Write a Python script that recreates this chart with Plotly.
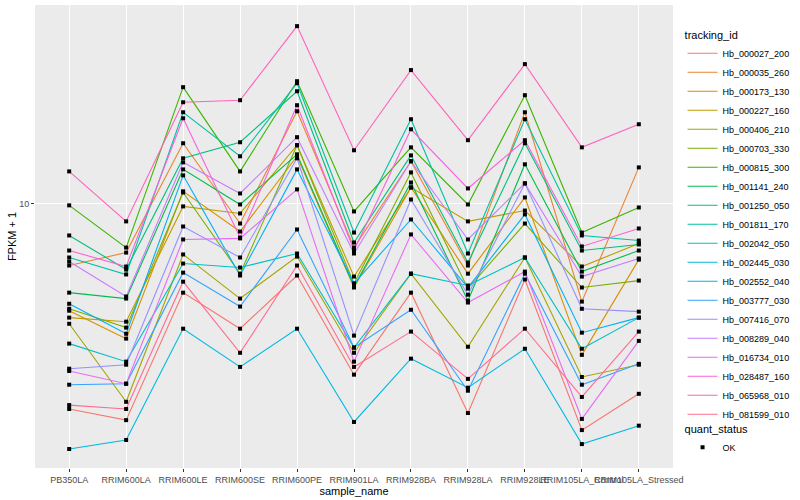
import plotly.graph_objects as go

samples = ["PB350LA", "RRIM600LA", "RRIM600LE", "RRIM600SE", "RRIM600PE",
           "RRIM901LA", "RRIM928BA", "RRIM928LA", "RRIM928LE",
           "RRIM105LA_Control", "RRIM105LA_Stressed"]

tracking_ids = ["Hb_000027_200", "Hb_000035_260", "Hb_000173_130", "Hb_000227_160",
                "Hb_000406_210", "Hb_000703_330", "Hb_000815_300", "Hb_001141_240",
                "Hb_001250_050", "Hb_001811_170", "Hb_002042_050", "Hb_002445_030",
                "Hb_002552_040", "Hb_003777_030", "Hb_007416_070", "Hb_008289_040",
                "Hb_016734_010", "Hb_028487_160", "Hb_065968_010", "Hb_081599_010"]

colors = ["#F8766D", "#EA8331", "#D89000", "#C09B00", "#A3A500", "#7CAE00", "#39B600",
          "#00BB4E", "#00BF7D", "#00C1A3", "#00BFC4", "#00BAE0", "#00B0F6", "#35A2FF",
          "#9590FF", "#C77CFF", "#E76BF3", "#FA62DB", "#FF62BC", "#FF6C91"]

# FPKM + 1 per sample (same order as samples)
Hb_000027_200 = [3.07, 2.88, 5.99, 4.87, 6.61, 3.74, 5.99, 3.00, 6.46, 2.72, 3.35]
Hb_000035_260 = [7.00, 7.54, 14.13, 8.91, 16.98, 7.76, 12.74, 7.00, 16.88, 5.69, 12.30]
Hb_000173_130 = [5.40, 4.60, 10.72, 8.51, 13.11, 6.17, 10.96, 6.68, 10.35, 4.19, 7.24]
Hb_000227_160 = [5.19, 5.07, 9.83, 9.44, 13.97, 6.57, 10.96, 9.02, 9.60, 6.96, 7.94]
Hb_000406_210 = [5.01, 3.20, 7.46, 5.79, 7.37, 4.24, 6.68, 4.39, 7.33, 3.69, 3.96]
Hb_000703_330 = [5.46, 4.90, 10.65, 6.68, 13.97, 6.31, 11.95, 6.13, 8.91, 6.17, 6.42]
Hb_000815_300 = [9.89, 7.76, 19.50, 12.02, 20.18, 9.55, 13.80, 9.94, 18.62, 8.46, 9.77]
Hb_001141_240 = [5.99, 5.79, 12.16, 9.94, 13.26, 6.20, 11.28, 5.72, 12.52, 6.76, 7.63]
Hb_001250_050 = [8.32, 6.84, 12.96, 14.21, 19.05, 7.99, 13.18, 7.12, 14.13, 7.63, 7.90]
Hb_001811_170 = [7.33, 6.65, 16.88, 13.11, 19.95, 8.46, 16.22, 7.50, 16.22, 8.32, 8.08]
Hb_002042_050 = [4.47, 4.03, 7.08, 6.92, 7.50, 4.37, 6.68, 6.24, 7.33, 4.34, 5.19]
Hb_002445_030 = [2.44, 2.57, 4.87, 3.91, 4.87, 2.85, 4.10, 3.47, 4.34, 2.51, 2.79]
Hb_002552_040 = [5.62, 4.73, 11.75, 6.61, 12.16, 6.31, 9.12, 6.17, 9.39, 4.76, 5.19]
Hb_003777_030 = [3.53, 3.55, 6.72, 5.53, 8.61, 4.37, 5.43, 3.41, 6.68, 3.53, 3.98]
Hb_007416_070 = [3.87, 3.96, 8.76, 7.33, 12.96, 4.68, 10.23, 5.92, 11.22, 5.46, 5.37]
Hb_008289_040 = [7.16, 5.86, 12.66, 10.59, 14.63, 7.50, 12.74, 8.13, 11.22, 6.57, 7.29]
Hb_016734_010 = [3.82, 3.55, 8.13, 8.18, 10.84, 4.03, 8.37, 5.66, 6.76, 2.90, 4.54]
Hb_028487_160 = [7.63, 6.96, 16.31, 8.22, 17.58, 7.63, 15.31, 10.90, 14.38, 7.81, 8.66]
Hb_065968_010 = [12.02, 9.02, 17.88, 18.09, 27.69, 13.57, 21.51, 14.38, 22.26, 13.80, 15.76]
Hb_081599_010 = [3.14, 3.07, 6.38, 4.24, 7.00, 3.91, 4.79, 3.65, 4.87, 3.29, 4.79]

series = [Hb_000027_200, Hb_000035_260, Hb_000173_130, Hb_000227_160, Hb_000406_210,
          Hb_000703_330, Hb_000815_300, Hb_001141_240, Hb_001250_050, Hb_001811_170,
          Hb_002042_050, Hb_002445_030, Hb_002552_040, Hb_003777_030, Hb_007416_070,
          Hb_008289_040, Hb_016734_010, Hb_028487_160, Hb_065968_010, Hb_081599_010]

quant_status = "OK"

FONT = "Liberation Sans, Arial, sans-serif"

fig = go.Figure()
for name, vals, col in zip(tracking_ids, series, colors):
    fig.add_trace(go.Scatter(
        x=samples, y=vals, mode="lines", name=name,
        line=dict(color=col, width=1.1), legend="legend",
        hoverinfo="skip"))

all_x = []
all_y = []
for vals in series:
    all_x.extend(samples)
    all_y.extend(vals)
fig.add_trace(go.Scatter(
    x=all_x, y=all_y, mode="markers", name=quant_status,
    marker=dict(symbol="square", size=4, color="black"),
    legend="legend2"))

fig.update_layout(
    width=800, height=500,
    margin=dict(l=35, r=117, t=5, b=32),
    paper_bgcolor="white", plot_bgcolor="#EBEBEB",
    font=dict(family=FONT, size=9, color="black"),
    xaxis=dict(
        type="category", categoryorder="array", categoryarray=samples,
        range=[-0.6, 10.6], showgrid=True, gridcolor="white", gridwidth=1.1,
        zeroline=False, ticks="outside", ticklen=3, tickcolor="#333333",
        tickangle=0, tickfont=dict(size=9, color="#4D4D4D", family=FONT),
        title=dict(text="sample_name", font=dict(size=11, color="black"), standoff=3),
        showline=False, automargin=False),
    yaxis=dict(
        type="log", range=[0.34, 1.495], tickvals=[10], ticktext=["10"],
        showgrid=True, gridcolor="white", gridwidth=1.1, zeroline=False,
        ticks="outside", ticklen=3, tickcolor="#333333",
        tickfont=dict(size=9, color="#4D4D4D", family=FONT),
        title=dict(text="FPKM + 1", font=dict(size=11, color="black"), standoff=0),
        showline=False, automargin=False),
    legend=dict(
        title=dict(text="tracking_id", font=dict(size=11, color="black")),
        x=1.015, xanchor="left", y=0.958, yanchor="top",
        font=dict(size=9, color="black", family=FONT),
        bgcolor="rgba(0,0,0,0)", tracegroupgap=0, itemwidth=30),
    legend2=dict(
        title=dict(text="quant_status", font=dict(size=11, color="black")),
        x=1.015, xanchor="left", y=0.107, yanchor="top",
        font=dict(size=9, color="black", family=FONT),
        bgcolor="rgba(0,0,0,0)", itemwidth=30),
    showlegend=True,
)

fig.write_html("out.html", config={"displayModeBar": False},
               post_script="document.body.style.margin='0px';")
